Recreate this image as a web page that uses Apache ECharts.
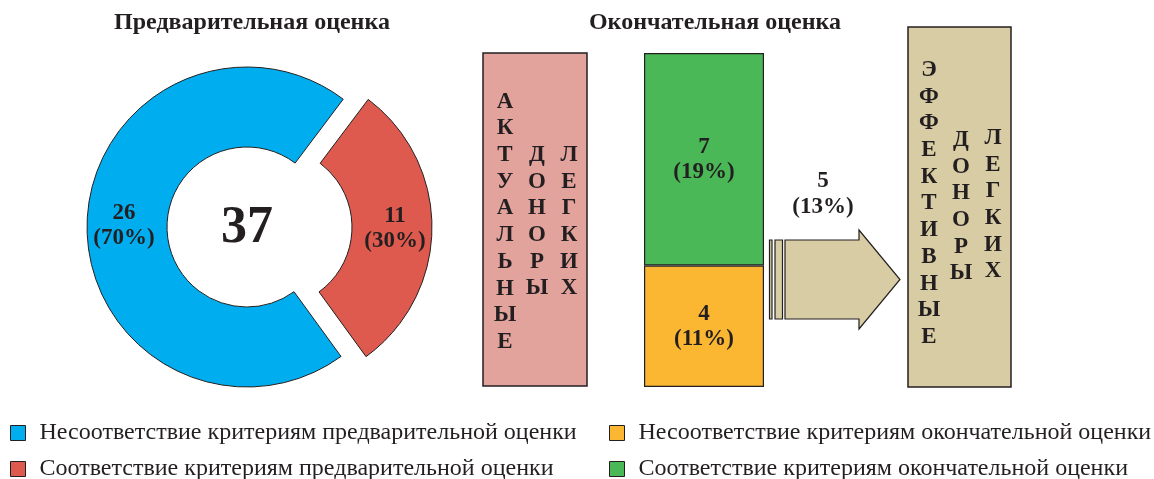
<!DOCTYPE html>
<html lang="ru">
<head>
<meta charset="UTF-8">
<title>Предварительная и окончательная оценка</title>
<script src="https://cdn.jsdelivr.net/npm/echarts@6/dist/echarts.min.js"></script>
<style>
	html, body { margin:0; padding:0; background:#fff; }
	#chart { width:1154px; height:479px; }
</style>
</head>
<body>
<div id="chart"></div>
<script>
	/* данные: предварительная оценка (кольцо) */
	var preNames = ['Несоответствие критериям предварительной оценки', 'Соответствие критериям предварительной оценки'];
	var preValues = [26, 11];
	var prePct = [70, 30];
	var preTotal = 37;

	/* данные: окончательная оценка (столбец) */
	var finNames = ['Несоответствие критериям окончательной оценки', 'Соответствие критериям окончательной оценки'];
	var finValues = [4, 7];
	var finPct = [11, 19];

	/* эффективные доноры */
	var effValue = 5;
	var effPct = 13;

	var actualWords = ['АКТУАЛЬНЫЕ', 'ДОНОРЫ', 'ЛЕГКИХ'];
	var effWords = ['ЭФФЕКТИВНЫЕ', 'ДОНОРЫ', 'ЛЕГКИХ'];

	var ink = '#231f20';
	var serif = '"Liberation Serif", "DejaVu Serif", serif';
	var preColors = ['#00aeef', '#de5a4f'];
	var finColors = ['#fbb632', '#4bb857'];

	function vertical(word, x, yFirst) {
		return {
			type: 'text', x: x, y: yFirst - 13.35,
			style: {
				text: word.split('').join('\n'),
				textAlign: 'center', textVerticalAlign: 'top',
				font: 'bold 23px ' + serif, lineHeight: 26.7, fill: ink
			}
		};
	}

	// одна строка легенды = один компонент, чтобы не было переноса
	function legendRow(name, left, top) {
		return {
			left: left, top: top, orient: 'horizontal', padding: 0,
			itemWidth: 15, itemHeight: 15, icon: 'rect',
			itemStyle: { borderColor: ink, borderWidth: 1 },
			textStyle: { fontFamily: serif, fontSize: 24, color: ink, padding: [0, 0, 0, 9] },
			data: [name]
		};
	}

	var chart = echarts.init(document.getElementById('chart'));
	var option = {
		animation: false,
		legend: [
			legendRow(preNames[0], 10, 421),
			legendRow(preNames[1], 10, 457),
			legendRow(finNames[0], 609, 421),
			legendRow(finNames[1], 609, 457)
		],
		grid: { left: 644, top: 53, width: 120, height: 334 },
		xAxis: { type: 'category', data: ['итог'], show: false },
		yAxis: { type: 'value', min: 0, max: 11, show: false },
		graphic: [
			{ type: 'text', x: 252, y: 23, style: { text: 'Предварительная оценка', textAlign: 'center', textVerticalAlign: 'middle', font: 'bold 24px ' + serif, fill: ink } },
			{ type: 'text', x: 715, y: 23, style: { text: 'Окончательная оценка', textAlign: 'center', textVerticalAlign: 'middle', font: 'bold 24px ' + serif, fill: ink } },
			{ type: 'text', x: 247, y: 229, style: { text: String(preTotal), textAlign: 'center', textVerticalAlign: 'middle', font: 'bold 52px ' + serif, fill: ink } },

			/* актуальные доноры */
			{ type: 'rect', shape: { x: 483, y: 53, width: 104, height: 333 }, style: { fill: '#e2a39d', stroke: ink, lineWidth: 1.5 } },
			vertical(actualWords[0], 505, 101.7),
			vertical(actualWords[1], 537, 155),
			vertical(actualWords[2], 569, 155),

			/* стрелка */
			{ type: 'rect', shape: { x: 769.5, y: 240, width: 2.5, height: 79 }, style: { fill: '#d8cca5', stroke: ink, lineWidth: 1.2 } },
			{ type: 'rect', shape: { x: 775, y: 240, width: 7.5, height: 79 }, style: { fill: '#d8cca5', stroke: ink, lineWidth: 1.2 } },
			{ type: 'polygon', shape: { points: [[785, 240], [859, 240], [859, 230], [900, 279.5], [859, 329], [859, 319], [785, 319]] }, style: { fill: '#d8cca5', stroke: ink, lineWidth: 1.2 } },
			{ type: 'text', x: 823, y: 194, style: { text: effValue + '\n(' + effPct + '%)', textAlign: 'center', textVerticalAlign: 'middle', font: 'bold 23px ' + serif, lineHeight: 26, fill: ink } },

			/* эффективные доноры */
			{ type: 'rect', shape: { x: 908, y: 27, width: 103, height: 360 }, style: { fill: '#d8cca5', stroke: ink, lineWidth: 1.5 } },
			vertical(effWords[0], 929, 70),
			vertical(effWords[1], 961, 140),
			vertical(effWords[2], 993, 138)
		],
		series: [
			{
				type: 'pie',
				center: [247, 227],
				radius: [80, 160],
				startAngle: 306,
				clockwise: true,
				selectedMode: 'single',
				selectedOffset: 25,
				avoidLabelOverlap: false,
				emphasis: { disabled: true },
				itemStyle: { borderColor: ink, borderWidth: 1 },
				label: {
					show: true, position: 'inside',
					fontFamily: serif, fontWeight: 'bold', fontSize: 23, lineHeight: 25, color: ink,
					formatter: function (p) { return p.value + '\n(' + prePct[p.dataIndex] + '%)'; }
				},
				labelLine: { show: false },
				data: preValues.map(function (v, i) {
					return { value: v, name: preNames[i], selected: i === 1, itemStyle: { color: preColors[i] } };
				})
			}
		].concat(finValues.map(function (v, i) {
			return {
				name: finNames[i],
				type: 'bar',
				stack: 'final',
				barWidth: '100%',
				color: finColors[i],
				itemStyle: { color: finColors[i], borderColor: ink, borderWidth: 1.2 },
				emphasis: { disabled: true },
				label: {
					show: true, position: 'inside',
					fontFamily: serif, fontWeight: 'bold', fontSize: 23, lineHeight: 25, color: ink,
					formatter: v + '\n(' + finPct[i] + '%)'
				},
				data: [v]
			};
		}))
	};
	chart.setOption(option);
</script>
</body>
</html>
